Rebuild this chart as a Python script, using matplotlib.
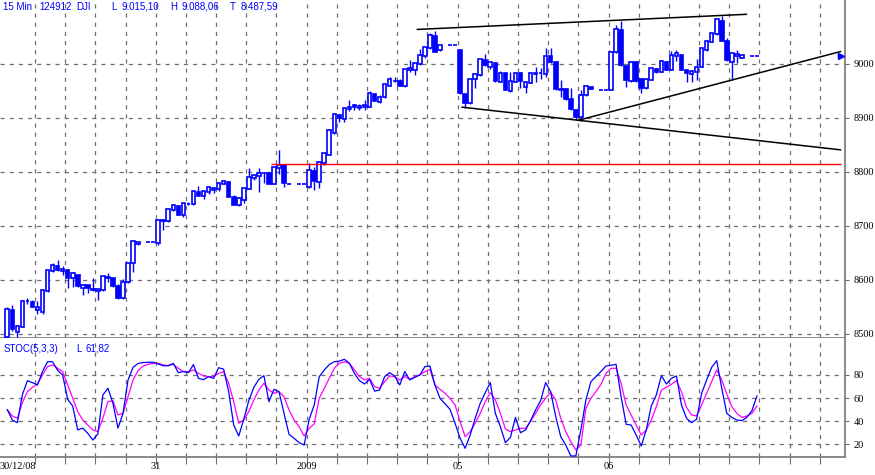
import numpy as np
import matplotlib
matplotlib.use("Agg")
import matplotlib.pyplot as plt
from matplotlib.patches import Rectangle

plt.rcParams['lines.scale_dashes'] = False

nan = np.nan

# 15 min DJI bars, 30 slots per day (last slot pair is a flat after-close bar, one slot empty)
opens = [
    8495, 8545, 8504, 8513, 8561, 8559, 8545, 8541, 8579, 8616,
    8625, 8617, 8618, 8603, 8609, 8586, 8590, 8583, 8579, 8581,
    8604, 8603, 8589, 8566, 8596, 8631, 8666, nan, 8670, 8670,
    8668, 8711, 8709, 8729, 8737, 8720, 8741, 8740, 8763, 8755,
    8762, 8767, 8768, 8778, 8781, 8753, 8738, 8749, 8769, 8788,
    8793, 8799, 8799, 8778, 8807, 8812, 8778, nan, 8777, 8777,
    8772, 8802, 8782, 8816, 8832, 8872, 8905, 8899, 8916, 8924,
    8918, 8920, 8921, 8944, 8930, 8938, 8960, 8969, 8968, 8959,
    8989, 8989, 9000, 9015, 9029, 9052, 9025, nan, 9035, 9035,
    9026, 8944, 8927, 8972, 8980, 9007, 8995, 9001, 8967, 8983,
    8950, 8967, 8984, 8958, 8965, 8981, 8984, 8981, 9014, 9004,
    8953, 8953, 8935, 8915, 8902, 8942, 8957, nan, 8952, 8952,
    8952, 9022, 9063, 8996, 8968, 9004, 8972, 8955, 8971, 8990,
    8986, 9004, 8989, 9014, 9017, 8989, 8981, 8986, 8995, 9025,
    9041, 9055, 9080, 9043, 9004, 9014, 9012, nan, 9015.1, 9015.1,
]
highs = [
    8550, 8553, 8516, 8562, 8566, 8563, 8561, 8582, 8619, 8631,
    8637, 8625, 8619, 8614, 8610, 8592, 8591, 8603, 8584, 8608,
    8613, 8604, 8593, 8601, 8632, 8674, 8671, nan, 8670, 8670,
    8713, 8712, 8732, 8739, 8738, 8743, 8745, 8765, 8774, 8765,
    8774, 8772, 8780, 8786, 8782, 8758, 8753, 8771, 8807, 8795,
    8807, 8800, 8800, 8810, 8841, 8813, 8779, nan, 8777, 8777,
    8817, 8810, 8820, 8836, 8880, 8908, 8906, 8919, 8933, 8925,
    8926, 8933, 8950, 8945, 8943, 8963, 8976, 8976, 8972, 8991,
    9007, 9002, 9027, 9032, 9058, 9062, 9036, nan, 9035, 9035,
    9027, 8945, 8974, 8982, 9010, 9018, 9004, 9002, 8987, 8984,
    8985, 8985, 8985, 8967, 8984, 8995, 8992, 9029, 9030, 9005,
    8970, 8955, 8955, 8916, 8952, 8960, 8958, nan, 8952, 8952,
    9024, 9072, 9080, 8997, 9005, 9005, 8973, 8973, 8993, 8993,
    9007, 9005, 9024, 9026, 9018, 8990, 8988, 9009, 9030, 9044,
    9058, 9084, 9088, 9048, 9022, 9026, 9017, nan, 9015.1, 9015.1,
]
lows = [
    8488, 8505, 8494, 8512, 8555, 8549, 8537, 8537, 8578, 8615,
    8617, 8609, 8586, 8587, 8587, 8573, 8576, 8580, 8563, 8580,
    8596, 8587, 8565, 8565, 8595, 8615, 8665, nan, 8670, 8670,
    8665, 8692, 8708, 8728, 8720, 8717, 8738, 8739, 8755, 8750,
    8760, 8761, 8764, 8777, 8753, 8738, 8737, 8742, 8768, 8785,
    8762, 8779, 8777, 8777, 8797, 8772, 8777, nan, 8777, 8777,
    8771, 8767, 8770, 8813, 8831, 8871, 8893, 8893, 8913, 8915,
    8914, 8915, 8920, 8931, 8927, 8937, 8959, 8966, 8959, 8958,
    8985, 8980, 8999, 9012, 9028, 9022, 9024, nan, 9035, 9035,
    8945, 8919, 8925, 8955, 8978, 8997, 8990, 8967, 8966, 8951,
    8949, 8966, 8955, 8947, 8964, 8967, 8972, 8976, 9002, 8952,
    8939, 8934, 8915, 8897, 8895, 8941, 8953, nan, 8952, 8952,
    8951, 9020, 8997, 8957, 8967, 8967, 8946, 8954, 8970, 8984,
    8985, 8988, 8988, 9006, 8988, 8967, 8967, 8970, 8994, 9024,
    9040, 9054, 9042, 9006, 8970, 9002, 9011, nan, 9015.1, 9015.1,
]
closes = [
    8546, 8510, 8515, 8561, 8561, 8550, 8550, 8581, 8618, 8627,
    8618, 8621, 8604, 8612, 8588, 8591, 8585, 8581, 8583, 8607,
    8606, 8588, 8567, 8597, 8631, 8672, 8670, nan, 8670, 8670,
    8711, 8710, 8731, 8738, 8721, 8742, 8741, 8764, 8756, 8764,
    8773, 8771, 8779, 8783, 8754, 8739, 8752, 8770, 8791, 8794,
    8799, 8798, 8778, 8809, 8812, 8779, 8778, nan, 8777, 8777,
    8804, 8784, 8819, 8835, 8878, 8907, 8900, 8918, 8920, 8920,
    8922, 8924, 8946, 8932, 8939, 8962, 8973, 8968, 8960, 8990,
    8992, 9001, 9017, 9031, 9054, 9023, 9035, nan, 9035, 9035,
    8946, 8927, 8973, 8981, 9009, 8998, 9003, 8968, 8983, 8952,
    8969, 8984, 8968, 8966, 8983, 8984, 8984, 9015, 9003, 8953,
    8952, 8935, 8916, 8902, 8943, 8959, 8954, nan, 8952, 8952,
    9023, 9064, 8998, 8970, 9004, 8968, 8955, 8972, 8992, 8985,
    9006, 8989, 9017, 9020, 8989, 8983, 8987, 8995, 9029, 9043,
    9057, 9083, 9043, 9007, 9020, 9018, 9016, nan, 9015.1, 9015.1,
]

# STOC(5,3,3): %K (blue) and %D (magenta)
stoch_k = [
    50, 41, 38.7, 63, 75, 73.4, 71.3, 83, 91.5, 91.5,
    84, 80, 59, 53, 32.4, 34, 29.5, 23.7, 29, 62.7,
    68.5, 55.5, 34, 46.8, 75.7, 86.6, 90, 90.7, 91, 91,
    89.5, 88, 88, 90, 82, 83, 82, 89, 77, 76,
    78.5, 77, 86.3, 85, 65.6, 36.7, 27.2, 41.6, 57.8, 69.3,
    76.2, 79.4, 56.9, 67.6, 65.6, 46.8, 28.6, 25.2, 21.4, 19.4,
    41.6, 54, 78.5, 84.3, 89, 91.5, 92, 93.6, 90, 81.4,
    75, 72.2, 76.2, 66, 67, 78.6, 82, 79, 71.3, 83,
    75.7, 78, 80, 87.2, 87.8, 71.3, 59.8, 55, 50.3, 38.2,
    25.2, 16.5, 28, 42.5, 55.5, 64.7, 73.4, 46.8, 35.3, 21.4,
    26, 43.3, 30, 32.4, 40.5, 49.7, 57.8, 73.4, 65.6, 44,
    26.6, 19.4, 9.9, 9.9, 32.4, 58.4, 74.2, 78.6, 83, 87.8,
    88.4, 89.2, 61.2, 37.3, 36.7, 28, 18.5, 32.4, 53.2, 62.7,
    79.4, 72.2, 77.1, 79.1, 54, 42.5, 38.7, 41.6, 64.1, 75.7,
    86.6, 92.4, 68.5, 46.8, 43.3, 41, 40.5, 43.3, 49.1, 61.8,
]
stoch_d = [
    49.7, 44.5, 42.5, 56, 65.6, 69.3, 72.2, 80, 87.2, 88.7,
    85.8, 83, 71.3, 59.8, 48.3, 41, 36.7, 32.4, 31, 42.5,
    56.9, 57.8, 45.4, 46.8, 61.2, 75.7, 83.8, 87.8, 89.2, 90.1,
    90.1, 88.7, 88.1, 89.2, 85.8, 82.9, 82.9, 84.3, 81.4, 79.1,
    78.6, 78.6, 81.4, 82.9, 72.8, 56.9, 38.2, 41, 48.3, 58.4,
    67, 72.8, 67, 64.1, 65.6, 61.2, 49.7, 41, 35.3, 27.2,
    33.8, 37.6, 59.8, 68.5, 77.1, 85.8, 90.1, 91.5, 90.1, 84.3,
    78.6, 75.7, 77.1, 69.9, 68.5, 74.2, 79.1, 78.6, 75.7, 78.6,
    76.2, 78.6, 80, 82.9, 84.9, 71.3, 67.6, 64.1, 59.8, 54,
    39.6, 26.6, 31, 38.2, 46.8, 56.9, 64.7, 58.4, 46.8, 33.2,
    31, 32.4, 33.8, 33.8, 39.6, 46.8, 54, 59.8, 65, 58.4,
    42.5, 31, 22.3, 15.1, 19.4, 51.1, 59.8, 65.6, 72, 81.4,
    85.8, 85.8, 72.8, 54, 45.4, 36.7, 28, 32.4, 41, 52.6,
    67, 69.3, 71.9, 75.1, 65.6, 52, 45.4, 44.5, 54, 64.1,
    74.2, 84.3, 75.7, 63.5, 52.6, 46.8, 43.3, 44.5, 46.8, 53.2,
]

day_labels = ["30/12/08", "31", "2009", "05", "06"]
price_ticks = [8500, 8600, 8700, 8800, 8900, 9000]
stoch_ticks = [20, 40, 60, 80]

# trend lines drawn on the chart: (bar positions, prices)
upper_line = ([81.5, 146.9], [9064, 9092])
lower_line = ([90.4, 165.6], [8920, 8841])
rising_line = ([113.6, 165.6], [8896, 9023])
red_level = 8814
red_span = [52.4, 165.8]
last_price = 9015.1

header = ["15 Min", "124912", "DJI", "L", "9.015,10", "H", "9.088,06", "T", "8.487,59"]

BARS_PER_DAY = 30
GRID_EVERY = 6
BLUE = '#0000ff'
MAGENTA = '#ff00ff'
FRAME = '#808080'
GRIDC = '#6e6e6e'
W, H = 875, 475

fig = plt.figure(figsize=(W / 100, H / 100), dpi=100)
ax = fig.add_axes([0, 1 - 338 / H, 845 / W, 338 / H])
ax2 = fig.add_axes([0, 1 - 457 / H, 845 / W, 119 / H])

xlim = (-1.45, 166.5)
n = len(closes)

# candles
for i in range(n):
    o, hi, lo, c = opens[i], highs[i], lows[i], closes[i]
    if np.isnan(o):
        continue
    ax.vlines(i, lo, hi, color=BLUE, lw=1.0, zorder=3)
    face = 'white' if c > o else BLUE
    ax.add_patch(Rectangle((i - 0.36, min(o, c)), 0.72, abs(c - o),
                           facecolor=face, edgecolor=BLUE, lw=1.2, zorder=4))

# last price marker at right edge
mx = xlim[1] - 1.1
ax.vlines(mx - 0.3, last_price - 2.5, last_price + 3, color=BLUE, lw=1.0, zorder=4)
ax.plot([mx + 0.4], [last_price], marker='>', ms=4.5, color=BLUE, zorder=4)

# trend lines and support level
for xs, ys in (upper_line, lower_line, rising_line):
    ax.plot(xs, ys, color='black', lw=1.1, zorder=5)
ax.hlines(red_level, red_span[0], red_span[1], color='red', lw=1.0, zorder=5)

# stochastic
idx = np.arange(len(stoch_k))
ax2.plot(idx, stoch_d, color=MAGENTA, lw=0.9, zorder=3)
ax2.plot(idx, stoch_k, color=BLUE, lw=0.9, zorder=4)

grid_x = np.arange(GRID_EVERY, xlim[1], GRID_EVERY) - 0.5
for a in (ax, ax2):
    a.set_xlim(*xlim)
    for gx in grid_x:
        a.axvline(gx, color=GRIDC, lw=0.9, ls=(0, (3, 3.6)), zorder=1)
    for side in ('top', 'left'):
        a.spines[side].set_visible(False)
    for side in ('right', 'bottom'):
        a.spines[side].set_color(FRAME)
        a.spines[side].set_linewidth(1.3)
    a.yaxis.tick_right()
    a.tick_params(axis='y', which='both', length=3, width=0.8, color=GRIDC,
                  pad=3, labelcolor='black')

ax.set_ylim(8492.5, 9118.5)
ax.set_yticks(price_ticks)
ax.set_yticklabels([str(v) for v in price_ticks], family='Liberation Serif', fontsize=7.5)
for p in price_ticks:
    ax.axhline(p, color=GRIDC, lw=0.9, ls=(0, (3, 3.6)), zorder=1)
ax.set_xticks([])

ax2.set_ylim(9.0, 112.0)
ax2.set_yticks(stoch_ticks)
ax2.set_yticklabels([str(v) for v in stoch_ticks], family='Liberation Serif', fontsize=7.5)
for p in stoch_ticks:
    ax2.axhline(p, color=GRIDC, lw=0.9, ls=(0, (3, 3.6)), zorder=1)
ax2.set_xticks(grid_x)
ax2.set_xticklabels([])
ax2.tick_params(axis='x', length=5, width=0.8, color=GRIDC, direction='out')

# day labels under the stochastic panel
for k, lab in enumerate(day_labels):
    if k == 0:
        ax2.text(xlim[0], -0.045, lab, transform=ax2.get_xaxis_transform(),
                 ha='left', va='top', fontsize=7.5, family='Liberation Serif')
    else:
        ax2.text(k * BARS_PER_DAY - 0.5, -0.045, lab, transform=ax2.get_xaxis_transform(),
                 ha='center', va='top', fontsize=7.5, family='Liberation Serif')

# header texts
hx = [3, 39, 76, 111, 121, 170, 182, 230, 241]
for s, px in zip(header, hx):
    fig.text(px / W, 1 - 1.5 / H, s, ha='left', va='top', color=BLUE,
             fontsize=7, family='Liberation Sans')
fig.text(4 / W, 1 - 343.5 / H, "STOC(5,3,3)", ha='left', va='top', color=BLUE,
         fontsize=7, family='Liberation Sans')
fig.text(76 / W, 1 - 343.5 / H, "L", ha='left', va='top', color=BLUE,
         fontsize=7, family='Liberation Sans')
fig.text(86 / W, 1 - 343.5 / H, "61,82", ha='left', va='top', color=BLUE,
         fontsize=7, family='Liberation Sans')

fig.savefig("out.png", dpi=100, facecolor='white')
